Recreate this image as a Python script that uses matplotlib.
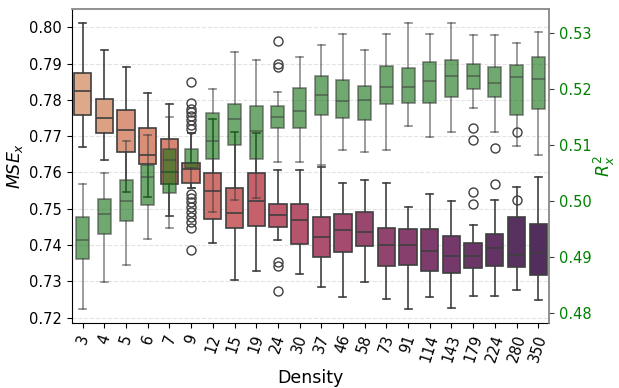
import matplotlib.pyplot as plt
import seaborn as sns

density = [3, 4, 5, 6, 7, 9, 12, 15, 19, 24, 30, 37, 46, 58, 73, 91, 114, 143, 179, 224, 280, 350]

# MSE_x box statistics for each density
mse_lo = [0.7669, 0.7635, 0.7547, 0.7532, 0.7481, 0.7556, 0.7405, 0.7304, 0.7329, 0.7414, 0.7319,
          0.7284, 0.7256, 0.7298, 0.7252, 0.7223, 0.7256, 0.7225, 0.7258, 0.7258, 0.7276, 0.7248]
mse_q1 = [0.7757, 0.7708, 0.7657, 0.7623, 0.7568, 0.7570, 0.7472, 0.7446, 0.7453, 0.7450, 0.7402,
          0.7368, 0.7380, 0.7396, 0.7341, 0.7346, 0.7329, 0.7323, 0.7337, 0.7343, 0.7338, 0.7317]
mse_med = [0.7823, 0.7749, 0.7716, 0.7648, 0.7601, 0.7609, 0.7548, 0.7489, 0.7522, 0.7482, 0.7468,
           0.7422, 0.7440, 0.7436, 0.7401, 0.7400, 0.7382, 0.7369, 0.7370, 0.7391, 0.7372, 0.7377]
mse_q3 = [0.7874, 0.7803, 0.7771, 0.7723, 0.7691, 0.7625, 0.7598, 0.7558, 0.7598, 0.7514, 0.7512,
          0.7478, 0.7485, 0.7491, 0.7446, 0.7444, 0.7444, 0.7426, 0.7404, 0.7430, 0.7478, 0.7458]
mse_hi = [0.8011, 0.7938, 0.7889, 0.7820, 0.7789, 0.7708, 0.7747, 0.7712, 0.7708, 0.7606, 0.7606,
          0.7615, 0.7572, 0.7579, 0.7572, 0.7505, 0.7540, 0.7521, 0.7455, 0.7525, 0.7559, 0.7586]
mse_out = {9: [0.7848, 0.7791, 0.7774, 0.7765, 0.7756, 0.7745, 0.7731, 0.7719,
               0.7478, 0.7464, 0.7446, 0.7387],
           24: [0.7354, 0.7341, 0.7274],
           179: [0.7545, 0.7513],
           224: [0.7569],
           280: [0.7525]}

# R^2_x box statistics for each density
r2_lo = [0.4807, 0.4855, 0.4887, 0.4933, 0.4952, 0.5023, 0.4980, 0.5002, 0.5005, 0.5070, 0.5070,
         0.5064, 0.5092, 0.5088, 0.5092, 0.5135, 0.5114, 0.5124, 0.5167, 0.5123, 0.5099, 0.5083]
r2_q1 = [0.4896, 0.4942, 0.4964, 0.4993, 0.5014, 0.5059, 0.5076, 0.5101, 0.5076, 0.5130, 0.5131,
         0.5153, 0.5148, 0.5145, 0.5173, 0.5175, 0.5175, 0.5186, 0.5201, 0.5185, 0.5153, 0.5165]
r2_med = [0.4930, 0.4978, 0.5000, 0.5043, 0.5073, 0.5068, 0.5107, 0.5147, 0.5126, 0.5151, 0.5160,
          0.5189, 0.5178, 0.5180, 0.5203, 0.5203, 0.5215, 0.5224, 0.5223, 0.5210, 0.5221, 0.5218]
r2_q3 = [0.4972, 0.5004, 0.5037, 0.5065, 0.5093, 0.5093, 0.5157, 0.5174, 0.5170, 0.5170, 0.5202,
         0.5224, 0.5216, 0.5205, 0.5242, 0.5238, 0.5249, 0.5252, 0.5245, 0.5240, 0.5243, 0.5257]
r2_hi = [0.5030, 0.5051, 0.5108, 0.5118, 0.5151, 0.5121, 0.5201, 0.5267, 0.5251, 0.5195, 0.5257,
         0.5279, 0.5298, 0.5270, 0.5299, 0.5318, 0.5298, 0.5317, 0.5296, 0.5296, 0.5283, 0.5302]
r2_out = {9: [0.5013, 0.5006, 0.4998, 0.4989, 0.4981],
          24: [0.5286, 0.5245, 0.5239],
          179: [0.5131, 0.5110],
          224: [0.5094],
          280: [0.5123]}


def make_stats(lo, q1, med, q3, hi, out):
    stats = []
    for i, d in enumerate(density):
        stats.append(dict(whislo=lo[i], q1=q1[i], med=med[i], q3=q3[i],
                          whishi=hi[i], fliers=out.get(d, [])))
    return stats


line_c = '#3f3f3f'
pos = list(range(len(density)))
box_cols = [sns.desaturate(c, 0.75) for c in sns.color_palette('flare', len(density))]
green = sns.desaturate('green', 0.75)

fig, ax = plt.subplots(figsize=(6.19, 3.88), dpi=100)
fig.subplots_adjust(left=0.116, right=0.887, top=0.977, bottom=0.168)

ax.yaxis.grid(True, ls='--', color='#e3e3e3', lw=0.8)
ax.set_axisbelow(True)

flier = dict(marker='o', markerfacecolor='none', markeredgecolor=line_c,
             markersize=6.5, markeredgewidth=1)

bp = ax.bxp(make_stats(mse_lo, mse_q1, mse_med, mse_q3, mse_hi, mse_out),
            positions=pos, widths=0.8, capwidths=0.32, patch_artist=True,
            manage_ticks=False,
            boxprops=dict(edgecolor=line_c, lw=1.2),
            whiskerprops=dict(color=line_c, lw=1.2),
            capprops=dict(color=line_c, lw=1.2),
            medianprops=dict(color=line_c, lw=1.2),
            flierprops=flier)
for patch, c in zip(bp['boxes'], box_cols):
    patch.set_facecolor(c)

ax.set_xlim(-0.5, len(density) - 0.5)
ax.set_ylim(0.71854, 0.80504)
ax.set_xticks(pos)
ax.set_xticklabels(density, rotation=72, fontsize=10.5)
ax.set_yticks([0.72, 0.73, 0.74, 0.75, 0.76, 0.77, 0.78, 0.79, 0.80])
ax.tick_params(axis='y', labelsize=10.5)
ax.set_xlabel('Density', fontsize=12.5)
ax.set_ylabel('$MSE_x$', fontsize=12.5, labelpad=3)
ax.spines['top'].set_visible(False)
ax.spines['right'].set_visible(False)

ax2 = ax.twinx()
bp2 = ax2.bxp(make_stats(r2_lo, r2_q1, r2_med, r2_q3, r2_hi, r2_out),
              positions=pos, widths=0.6, capwidths=0.32, patch_artist=True,
              manage_ticks=False,
              boxprops=dict(facecolor=green, edgecolor=line_c, lw=1.2, alpha=0.6),
              whiskerprops=dict(color=line_c, lw=1.2, alpha=0.6),
              capprops=dict(color=line_c, lw=1.2, alpha=0.6),
              medianprops=dict(color=line_c, lw=1.2, alpha=0.6),
              flierprops=flier)
ax2.set_ylim(0.4783, 0.5343)
ax2.set_yticks([0.48, 0.49, 0.50, 0.51, 0.52, 0.53])
ax2.tick_params(axis='y', labelsize=10.5, labelcolor='green', color=line_c)
ax2.set_ylabel('$R_x^2$', fontsize=12.5, color='green', labelpad=0)
ax2.spines['left'].set_visible(False)
ax2.spines['bottom'].set_visible(False)
for s in ['top', 'right']:
    ax2.spines[s].set_color('#888888')
    ax2.spines[s].set_linewidth(1.3)

plt.savefig('out.png', dpi=100)
